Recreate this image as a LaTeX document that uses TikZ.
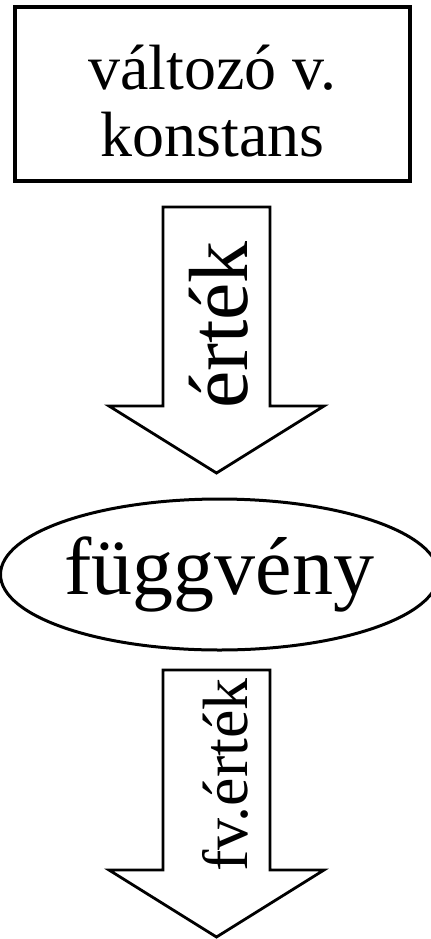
\documentclass[tikz,border=0pt]{standalone}
\usepackage{fontspec}
\setmainfont{Liberation Serif}
\usetikzlibrary{shapes.geometric}
\tikzset{
  flowbox/.style={draw=black, line width=2.2pt, rectangle, inner sep=0pt,
    align=center, font=\fontsize{32}{33.5}\selectfont},
  flowfunc/.style={draw=black, line width=1.5pt, ellipse, inner sep=0pt,
    font=\fontsize{41}{44}\selectfont},
  flowarrow/.style={draw=black, fill=white, line width=1.4pt,
    line join=miter},
  flowlabel/.style={rotate=90, anchor=base, inner sep=0pt}
}

\begin{document}
\begin{tikzpicture}[x=0.5pt,y=-0.5pt]
  \useasboundingbox (0,0) rectangle (430,939);

  \node[flowbox, minimum width=197.5pt, minimum height=87pt] (valtozo)
    at (212.5,94) {\rule{0pt}{29pt}változó v.\\konstans};
  \node[flowfunc, minimum width=207.5pt, minimum height=75.5pt] (fuggveny)
    at (219.5,574.5) {függvény};

  % value arrow
  \coordinate (ertektop) at (216.5,207);
  \coordinate (ertektip) at (216.5,473);
  \draw[flowarrow] (ertektop) ++(-53.5,0) -- ++(0,199) -- ++(-54,0)
    -- (ertektip) -- ++(107.5,-67) -- ++(-54,0) -- ++(0,-199) -- cycle;
  \node[flowlabel, font=\fontsize{42}{44}\selectfont] (ertek)
    at (247,325) {érték};

  % function value arrow
  \coordinate (fvtop) at (216.5,670);
  \coordinate (fvtip) at (216.5,937);
  \draw[flowarrow] (fvtop) ++(-53.5,0) -- ++(0,200) -- ++(-54,0)
    -- (fvtip) -- ++(107.5,-67) -- ++(-54,0) -- ++(0,-200) -- cycle;
  \node[flowlabel, font=\fontsize{32}{34}\selectfont] (fvertek)
    at (247,775) {fv.érték};
\end{tikzpicture}
\end{document}
